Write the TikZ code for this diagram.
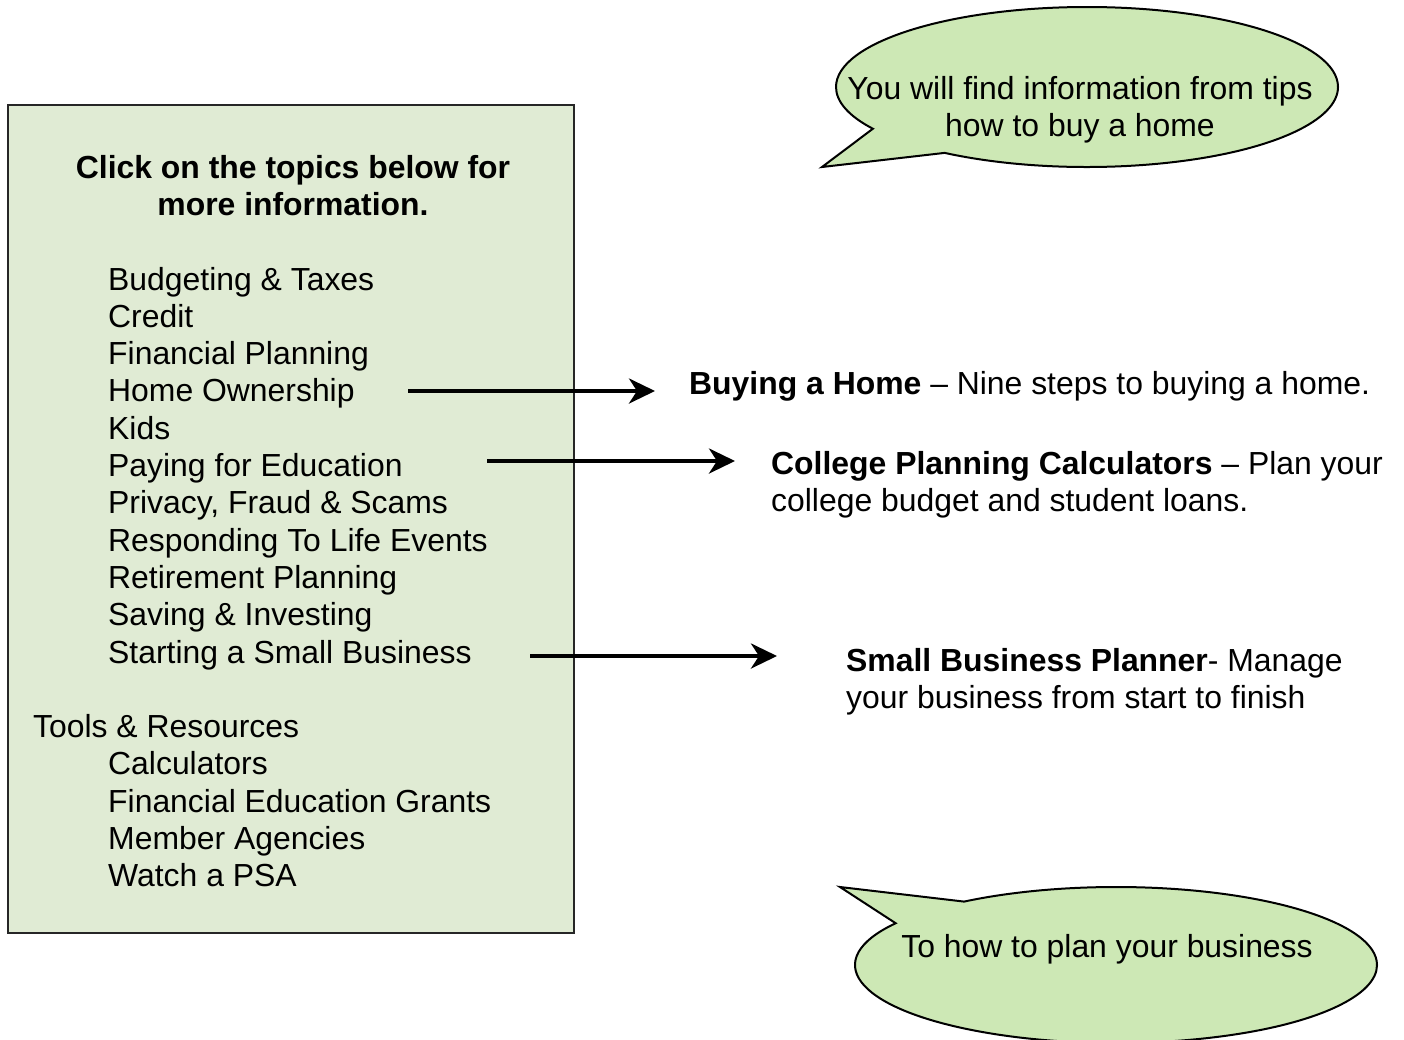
\documentclass[tikz,border=0pt]{standalone}
\usepackage{fontspec}
\setmainfont{Liberation Sans}
\usetikzlibrary{arrows.meta}
\usetikzlibrary{shapes.callouts}

\definecolor{panelgreen}{RGB}{224,235,212}
\definecolor{bubblegreen}{RGB}{205,232,181}

\tikzset{
  txt/.style={inner sep=0pt, anchor=base west, font=\fontsize{31.9}{37.3}\selectfont},
  ctxt/.style={txt, anchor=base},
  panel/.style={draw=black!85, line width=2pt, fill=panelgreen, minimum width=566pt, minimum height=828pt},
  bubble/.style={ellipse callout, draw=black, line width=2pt, fill=bubblegreen},
  link/.style={line width=4pt, -{Stealth[length=26pt, width=25pt, inset=8pt]}}
}

\begin{document}
\begin{tikzpicture}[x=1pt, y=-1pt]
\useasboundingbox (0,0) rectangle (1404,1039);

\node[panel] (panel) at (291,519) {};
\node[ctxt] (head1) at (293,178) {\bfseries Click on the topics below for};
\node[ctxt] (head2) at (293,215) {\bfseries more information.};

\foreach \t [count=\i from 0] in {Budgeting \& Taxes, Credit, Financial Planning, Home Ownership, Kids, Paying for Education, {Privacy, Fraud \& Scams}, Responding To Life Events, Retirement Planning, Saving \& Investing, Starting a Small Business}
  \node[txt] (topic\i) at (108,{290+37.3*\i}) {\t};
\node[txt] (tools) at (33,{290+37.3*12}) {Tools \& Resources};
\foreach \t [count=\i from 13] in {Calculators, Financial Education Grants, Member Agencies, Watch a PSA}
  \node[txt] (tool\i) at (108,{290+37.3*\i}) {\t};

\node[txt] (buy) at (689,394) {\textbf{Buying a Home} – Nine steps to buying a home.};
\node[txt] (college) at (771,474) {\textbf{College Planning Calculators} – Plan your};
\node[txt] (college2) at (771,511) {college budget and student loans.};
\node[txt] (small) at (846,671) {\textbf{Small Business Planner}- Manage};
\node[txt] (small2) at (846,708) {your business from start to finish};

\coordinate (homeA) at (408,391);
\coordinate (eduA) at (487,461);
\coordinate (bizA) at (530,656);
\draw[link, shorten >=34pt] (homeA) -- (homeA -| buy.west);
\draw[link, shorten >=36pt] (eduA) -- (eduA -| college.west);
\draw[link, shorten >=69pt] (bizA) -- (bizA -| small.west);

\node[bubble, minimum width=502pt, minimum height=160pt, callout pointer arc=24, callout absolute pointer={(822,167)}] (tip1) at (1087,87) {};
\node[ctxt] (tip1a) at (1080,99) {You will find information from tips};
\node[ctxt] (tip1b) at (1080,136) {how to buy a home};

\node[bubble, minimum width=522pt, minimum height=156pt, callout pointer arc=22, callout absolute pointer={(840,887)}] (tip2) at (1116,965) {};
\node[ctxt] (tip2a) at (1107,957) {To how to plan your business};
\end{tikzpicture}
\end{document}
